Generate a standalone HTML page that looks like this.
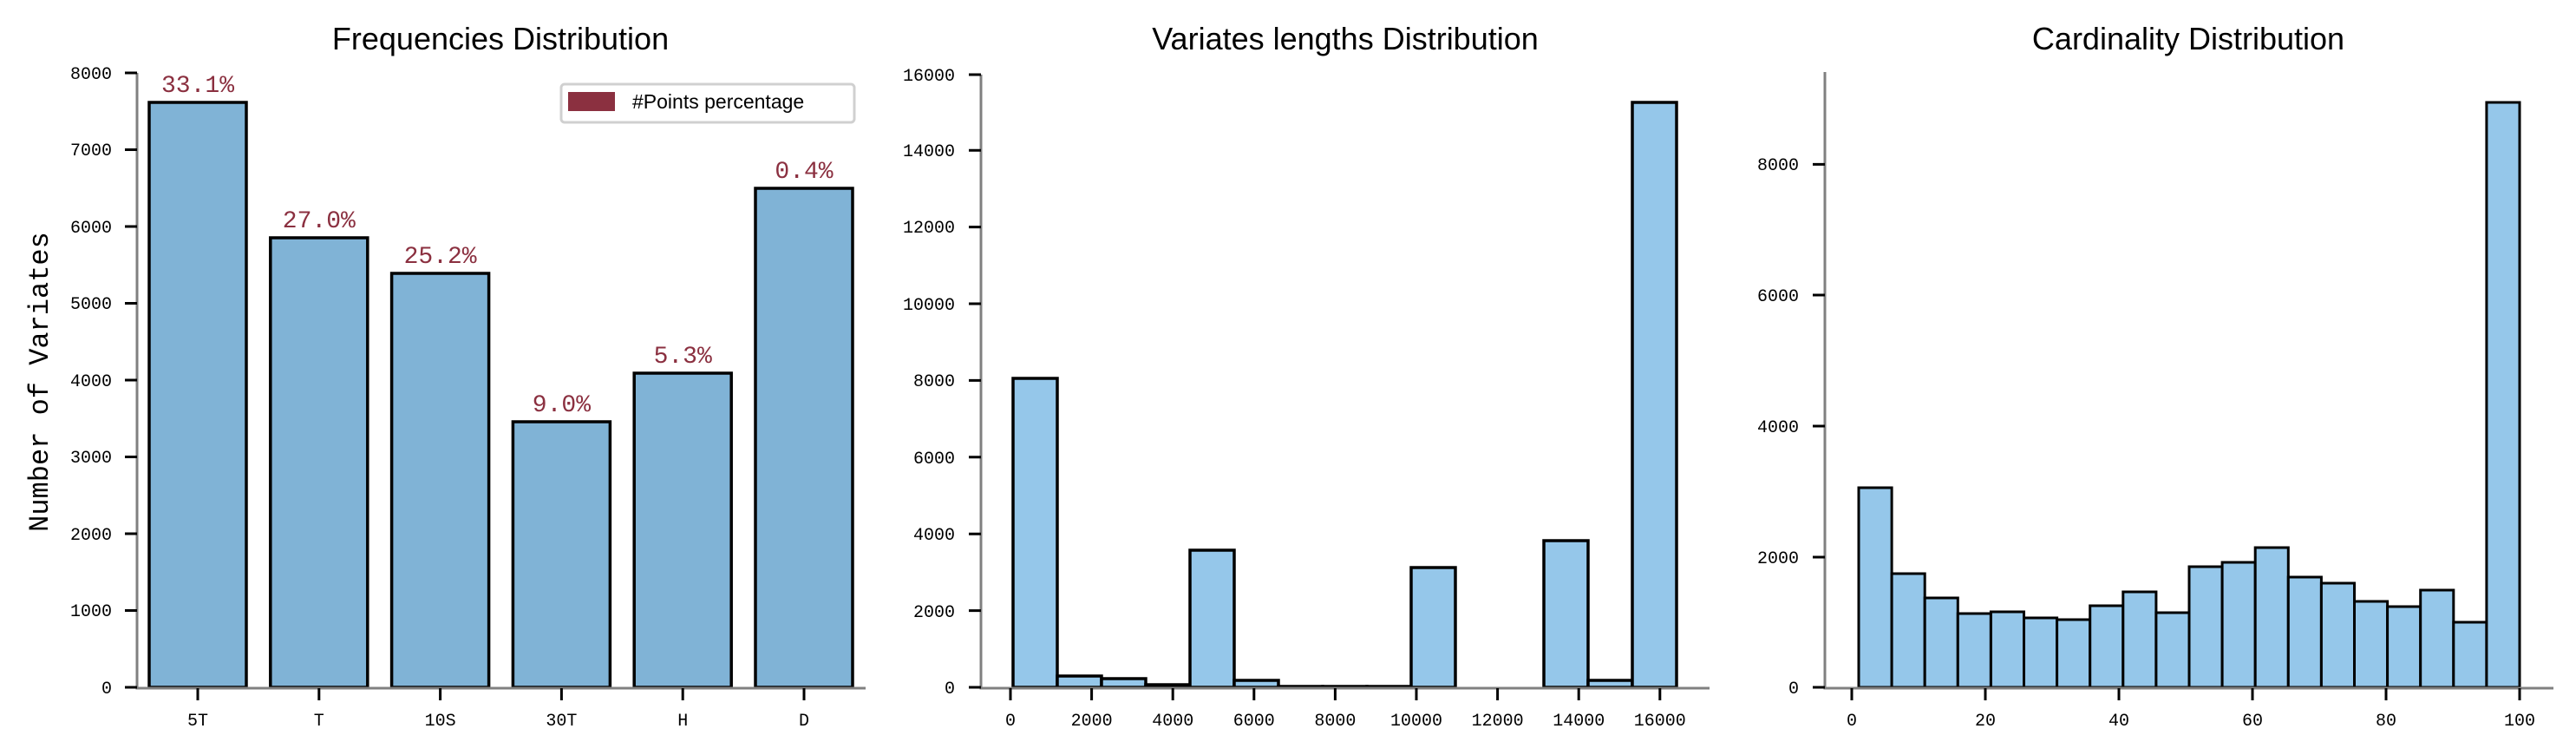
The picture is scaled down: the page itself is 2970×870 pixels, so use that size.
<!DOCTYPE html>
<html><head><meta charset="utf-8"><style>
html,body{margin:0;padding:0;background:#fff;}
svg{display:block;}
.t{font-family:"Liberation Sans",sans-serif;font-size:36px;fill:#000;}
.m{font-family:"Liberation Mono",monospace;font-size:20px;fill:#000;}
.p{font-family:"Liberation Mono",monospace;font-size:28px;fill:#8b3040;}
</style></head><body>
<svg width="2970" height="870" viewBox="0 0 2970 870" xmlns="http://www.w3.org/2000/svg">
<!-- Panel 1 -->
<text class="t" x="577" y="57" text-anchor="middle">Frequencies Distribution</text>
<text x="55" y="440" transform="rotate(-90 55 440)" text-anchor="middle" style="font-family:'Liberation Mono',monospace;font-size:32px;">Number of Variates</text>
<g stroke="#000" stroke-width="3.5" fill="#80b3d6">
<rect x="172" y="118" width="112" height="674"/>
<rect x="311.8" y="274" width="112" height="518"/>
<rect x="451.6" y="315" width="112" height="477"/>
<rect x="591.4" y="486" width="112" height="306"/>
<rect x="731.2" y="430" width="112" height="362"/>
<rect x="871" y="217" width="112" height="575"/>
</g>
<g class="p" text-anchor="middle">
<text x="228" y="106">33.1%</text>
<text x="367.8" y="262">27.0%</text>
<text x="507.6" y="303">25.2%</text>
<text x="647.4" y="474">9.0%</text>
<text x="787.2" y="418">5.3%</text>
<text x="927" y="205">0.4%</text>
</g>
<path d="M158 84 V793 H998" stroke="#808080" stroke-width="3" fill="none"/>
<g stroke="#000" stroke-width="3">
<path d="M144 792h14M144 703.5h14M144 615h14M144 526.5h14M144 438h14M144 349.5h14M144 261h14M144 172.5h14M144 84h14"/>
<path d="M228 793v14M367.8 793v14M507.6 793v14M647.4 793v14M787.2 793v14M927 793v14"/>
</g>
<g class="m" text-anchor="end">
<text x="129" y="799">0</text><text x="129" y="710">1000</text><text x="129" y="622">2000</text><text x="129" y="533">3000</text><text x="129" y="445">4000</text><text x="129" y="356">5000</text><text x="129" y="268">6000</text><text x="129" y="179">7000</text><text x="129" y="91">8000</text>
</g>
<g class="m" text-anchor="middle">
<text x="228" y="836">5T</text><text x="367.8" y="836">T</text><text x="507.6" y="836">10S</text><text x="647.4" y="836">30T</text><text x="787.2" y="836">H</text><text x="927" y="836">D</text>
</g>
<rect x="647" y="97" width="338" height="44" rx="4" fill="#fff" stroke="#d0d0d0" stroke-width="3"/>
<rect x="655" y="106" width="54" height="22" fill="#8b3040"/>
<text x="729" y="125" style="font-family:'Liberation Sans',sans-serif;font-size:23px;">#Points percentage</text>

<!-- Panel 2 -->
<text class="t" x="1551" y="57" text-anchor="middle">Variates lengths Distribution</text>
<g stroke="#000" stroke-width="3.5" fill="#95c7ea">
<rect x="1168" y="436" width="51" height="356"/>
<rect x="1219" y="779" width="51" height="13"/>
<rect x="1270" y="782" width="51" height="10"/>
<rect x="1321" y="789" width="51" height="3"/>
<rect x="1372" y="634" width="51" height="158"/>
<rect x="1423" y="784" width="51" height="8"/>
<rect x="1474" y="791" width="51" height="1"/>
<rect x="1525" y="791" width="51" height="1"/>
<rect x="1576" y="791" width="51" height="1"/>
<rect x="1627" y="654" width="51" height="138"/>
<rect x="1780" y="623" width="51" height="169"/>
<rect x="1831" y="784" width="51" height="8"/>
<rect x="1882" y="118" width="51" height="674"/>
</g>
<path d="M1131 86 V793 H1971" stroke="#808080" stroke-width="3" fill="none"/>
<g stroke="#000" stroke-width="3">
<path d="M1117 792h14M1117 703.6h14M1117 615.2h14M1117 526.8h14M1117 438.4h14M1117 350h14M1117 261.6h14M1117 173.2h14M1117 86h14"/>
<path d="M1165 793v14M1258.6 793v14M1352.2 793v14M1445.8 793v14M1539.4 793v14M1633 793v14M1726.6 793v14M1820.2 793v14M1913.8 793v14"/>
</g>
<g class="m" text-anchor="end">
<text x="1101" y="799">0</text><text x="1101" y="711">2000</text><text x="1101" y="622">4000</text><text x="1101" y="534">6000</text><text x="1101" y="445">8000</text><text x="1101" y="357">10000</text><text x="1101" y="268">12000</text><text x="1101" y="180">14000</text><text x="1101" y="93">16000</text>
</g>
<g class="m" text-anchor="middle">
<text x="1165" y="836">0</text><text x="1258.6" y="836">2000</text><text x="1352.2" y="836">4000</text><text x="1445.8" y="836">6000</text><text x="1539.4" y="836">8000</text><text x="1633" y="836">10000</text><text x="1726.6" y="836">12000</text><text x="1820.2" y="836">14000</text><text x="1913.8" y="836">16000</text>
</g>

<!-- Panel 3 -->
<text class="t" x="2523" y="57" text-anchor="middle">Cardinality Distribution</text>
<g stroke="#000" stroke-width="3" fill="#95c7ea">
<rect x="2143" y="562" width="38.1" height="230"/>
<rect x="2181.1" y="661" width="38.1" height="131"/>
<rect x="2219.2" y="689" width="38.1" height="103"/>
<rect x="2257.3" y="707" width="38.1" height="85"/>
<rect x="2295.4" y="705" width="38.1" height="87"/>
<rect x="2333.5" y="712" width="38.1" height="80"/>
<rect x="2371.6" y="714" width="38.1" height="78"/>
<rect x="2409.7" y="698" width="38.1" height="94"/>
<rect x="2447.8" y="682" width="38.1" height="110"/>
<rect x="2485.9" y="706" width="38.1" height="86"/>
<rect x="2524" y="653" width="38.1" height="139"/>
<rect x="2562.1" y="648" width="38.1" height="144"/>
<rect x="2600.2" y="631" width="38.1" height="161"/>
<rect x="2638.3" y="665" width="38.1" height="127"/>
<rect x="2676.4" y="672" width="38.1" height="120"/>
<rect x="2714.5" y="693" width="38.1" height="99"/>
<rect x="2752.6" y="699" width="38.1" height="93"/>
<rect x="2790.7" y="680" width="38.1" height="112"/>
<rect x="2828.8" y="717" width="38.1" height="75"/>
<rect x="2866.9" y="118" width="38.1" height="674"/>
</g>
<path d="M2104 83 V793 H2944" stroke="#808080" stroke-width="3" fill="none"/>
<g stroke="#000" stroke-width="3">
<path d="M2090 792h14M2090 642h14M2090 491h14M2090 340h14M2090 189.4h14"/>
<path d="M2135 793v14M2289 793v14M2443 793v14M2597 793v14M2751 793v14M2905 793v14"/>
</g>
<g class="m" text-anchor="end">
<text x="2074" y="799">0</text><text x="2074" y="649">2000</text><text x="2074" y="498">4000</text><text x="2074" y="347">6000</text><text x="2074" y="196">8000</text>
</g>
<g class="m" text-anchor="middle">
<text x="2135" y="836">0</text><text x="2289" y="836">20</text><text x="2443" y="836">40</text><text x="2597" y="836">60</text><text x="2751" y="836">80</text><text x="2905" y="836">100</text>
</g>
</svg>
</body></html>
